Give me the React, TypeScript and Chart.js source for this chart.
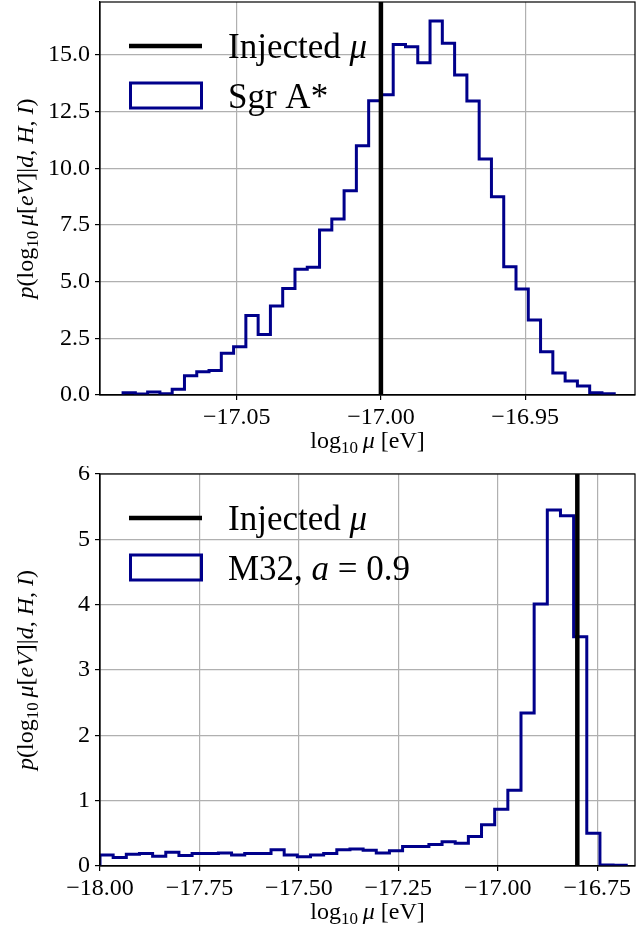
import React, { useEffect, useRef } from "react";
import { Chart, registerables } from "chart.js";

Chart.register(...registerables);

const FONT = "'Liberation Serif', 'DejaVu Serif', serif";
const HIST_COLOR = "#00008b";

// ---------- Top panel: Sgr A* ----------
const sgrBinRange = [-17.0894, -16.9191];
const sgrDensity = [
  0.1, 0.04, 0.13, 0.06, 0.25, 0.85, 1.02, 1.08, 1.84, 2.13,
  3.51, 2.67, 3.92, 4.7, 5.54, 5.63, 7.28, 7.76, 9.01, 10.99,
  12.98, 13.24, 15.46, 15.36, 14.65, 16.49, 15.51, 14.11, 12.96, 10.41,
  8.74, 5.66, 4.67, 3.31, 1.91, 0.97, 0.62, 0.4, 0.1, 0.05,
];
const sgrInjected = -17.0;
const sgrXLimits = [-17.0974, -16.9119];
const sgrYLimits = [0, 17.33];
const sgrXTicks = [-17.05, -17.0, -16.95];
const sgrXTickLabels = ["\u221217.05", "\u221217.00", "\u221216.95"];
const sgrYTicks = [0, 2.5, 5, 7.5, 10, 12.5, 15];
const sgrYTickLabels = ["0.0", "2.5", "5.0", "7.5", "10.0", "12.5", "15.0"];

// ---------- Bottom panel: M32, a = 0.9 ----------
const m32BinRange = [-18.0, -16.677];
const m32Density = [
  0.17, 0.13, 0.18, 0.19, 0.15, 0.21, 0.16, 0.19, 0.19, 0.2,
  0.17, 0.19, 0.19, 0.25, 0.17, 0.14, 0.17, 0.19, 0.25, 0.26,
  0.24, 0.2, 0.235, 0.3, 0.3, 0.33, 0.37, 0.35, 0.45, 0.63,
  0.87, 1.16, 2.34, 4.01, 5.45, 5.36, 3.51, 0.5, 0.015, 0.01,
];
const m32Injected = -16.8;
const m32XLimits = [-18.0, -16.655];
const m32YLimits = [0, 6];
const m32XTicks = [-18, -17.75, -17.5, -17.25, -17, -16.75];
const m32XTickLabels = ["\u221218.00", "\u221217.75", "\u221217.50", "\u221217.25", "\u221217.00", "\u221216.75"];
const m32YTicks = [0, 1, 2, 3, 4, 5, 6];
const m32YTickLabels = ["0", "1", "2", "3", "4", "5", "6"];

type Seg = { t: string; s?: "n" | "i" | "sub" };

function drawRich(ctx: CanvasRenderingContext2D, segs: Seg[], x: number, y: number, size: number, align: "center" | "left") {
  const fontFor = (s?: string) =>
    s === "i" ? `italic ${size}px ${FONT}` : s === "sub" ? `${Math.round(size * 0.7)}px ${FONT}` : `${size}px ${FONT}`;
  let total = 0;
  const widths = segs.map((seg) => {
    ctx.font = fontFor(seg.s);
    const w = ctx.measureText(seg.t).width;
    total += w;
    return w;
  });
  let cx = align === "center" ? x - total / 2 : x;
  ctx.textAlign = "left";
  ctx.textBaseline = "alphabetic";
  ctx.fillStyle = "#000";
  segs.forEach((seg, i) => {
    ctx.font = fontFor(seg.s);
    ctx.fillText(seg.t, cx, seg.s === "sub" ? y + size * 0.22 : y);
    cx += widths[i];
  });
}

const xTitleSegs: Seg[] = [{ t: "log" }, { t: "10", s: "sub" }, { t: "\u2009" }, { t: "\u03bc", s: "i" }, { t: " [eV]" }];
const yTitleSegs: Seg[] = [
  { t: "p", s: "i" }, { t: "(log" }, { t: "10", s: "sub" }, { t: "\u2009" }, { t: "\u03bc", s: "i" },
  { t: "[" }, { t: "eV", s: "i" }, { t: "]|" }, { t: "d", s: "i" }, { t: ", " }, { t: "H", s: "i" },
  { t: ", " }, { t: "I", s: "i" }, { t: ")" },
];

interface PanelSpec {
  binRange: number[];
  density: number[];
  injected: number;
  xLimits: number[];
  yLimits: number[];
  xTicks: number[];
  xTickLabels: string[];
  yTicks: number[];
  yTickLabels: string[];
  legendLabel: Seg[];
  padTop: number;
  xAxisH: number;
}

function buildConfig(p: PanelSpec): any {
  const n = p.density.length;
  const w = (p.binRange[1] - p.binRange[0]) / n;
  const edges = Array.from({ length: n + 1 }, (_, i) => p.binRange[0] + i * w);
  const histPts: { x: number; y: number }[] = [{ x: edges[0], y: 0 }];
  p.density.forEach((v, i) => histPts.push({ x: edges[i], y: v }));
  histPts.push({ x: edges[n], y: p.density[n - 1] });
  histPts.push({ x: edges[n], y: 0 });

  const overlay = {
    id: "overlay",
    afterDraw(chart: any) {
      const ctx: CanvasRenderingContext2D = chart.ctx;
      const a = chart.chartArea;
      ctx.save();
      // frame (spines)
      ctx.strokeStyle = "#000";
      ctx.lineWidth = 1.2;
      ctx.strokeRect(a.left, a.top, a.right - a.left, a.bottom - a.top);
      // legend
      ctx.beginPath();
      ctx.strokeStyle = "#000";
      ctx.lineWidth = 4.5;
      ctx.moveTo(a.left + 29, a.top + 44);
      ctx.lineTo(a.left + 102, a.top + 44);
      ctx.stroke();
      ctx.strokeStyle = HIST_COLOR;
      ctx.lineWidth = 3;
      ctx.strokeRect(a.left + 30.5, a.top + 81, 71, 25);
      drawRich(ctx, [{ t: "Injected " }, { t: "\u03bc", s: "i" }], a.left + 128, a.top + 56, 35, "left");
      drawRich(ctx, p.legendLabel, a.left + 128, a.top + 106, 35, "left");
      // axis titles
      drawRich(ctx, xTitleSegs, (a.left + a.right) / 2, a.bottom + 53, 24, "center");
      ctx.translate(33, (a.top + a.bottom) / 2);
      ctx.rotate(-Math.PI / 2);
      drawRich(ctx, yTitleSegs, 0, 0, 24, "center");
      ctx.restore();
    },
  };

  const tickFont = { family: FONT, size: 24 };

  return {
    type: "line",
    data: {
      datasets: [
        {
          label: "Injected",
          data: [
            { x: p.injected, y: p.yLimits[0] },
            { x: p.injected, y: p.yLimits[1] },
          ],
          borderColor: "#000",
          borderWidth: 4.5,
          pointRadius: 0,
          borderCapStyle: "butt",
        },
        {
          label: "hist",
          data: histPts,
          borderColor: HIST_COLOR,
          borderWidth: 3,
          pointRadius: 0,
          stepped: "before",
          borderJoinStyle: "miter",
          fill: false,
        },
      ],
    },
    options: {
      responsive: false,
      animation: false,
      devicePixelRatio: 1,
      layout: { padding: { top: p.padTop, right: 1, left: 0, bottom: 0 } },
      plugins: { legend: { display: false }, tooltip: { enabled: false } },
      scales: {
        x: {
          type: "linear",
          min: p.xLimits[0],
          max: p.xLimits[1],
          afterBuildTicks: (s: any) => {
            s.ticks = p.xTicks.map((v) => ({ value: v }));
          },
          afterFit: (s: any) => {
            s.height = p.xAxisH;
            s.paddingLeft = 0;
            s.paddingRight = 0;
          },
          ticks: {
            callback: (v: number) => p.xTickLabels[p.xTicks.findIndex((t) => Math.abs(t - v) < 1e-9)],
            font: tickFont,
            color: "#000",
            padding: 3,
            maxRotation: 0,
            autoSkip: false,
          },
          grid: { color: "#b0b0b0", lineWidth: 1.2, tickColor: "#000", tickLength: 5, tickWidth: 1.2 },
          border: { color: "#000", width: 1.2 },
        },
        y: {
          type: "linear",
          min: p.yLimits[0],
          max: p.yLimits[1],
          afterBuildTicks: (s: any) => {
            s.ticks = p.yTicks.map((v) => ({ value: v }));
          },
          afterFit: (s: any) => {
            s.width = 100;
            s.paddingTop = 0;
            s.paddingBottom = 0;
          },
          ticks: {
            callback: (v: number) => p.yTickLabels[p.yTicks.findIndex((t) => Math.abs(t - v) < 1e-9)],
            font: tickFont,
            color: "#000",
            padding: 5,
            autoSkip: false,
          },
          grid: { color: "#b0b0b0", lineWidth: 1.2, tickColor: "#000", tickLength: 5, tickWidth: 1.2 },
          border: { color: "#000", width: 1.2 },
        },
      },
    },
    plugins: [overlay],
  };
}

function Panel({ spec, height }: { spec: PanelSpec; height: number }) {
  const ref = useRef<HTMLCanvasElement>(null);
  useEffect(() => {
    const chart = new Chart(ref.current as HTMLCanvasElement, buildConfig(spec));
    return () => chart.destroy();
  }, []);
  return <canvas ref={ref} width={636} height={height} style={{ display: "block", width: 636, height }} />;
}

const topSpec: PanelSpec = {
  binRange: sgrBinRange,
  density: sgrDensity,
  injected: sgrInjected,
  xLimits: sgrXLimits,
  yLimits: sgrYLimits,
  xTicks: sgrXTicks,
  xTickLabels: sgrXTickLabels,
  yTicks: sgrYTicks,
  yTickLabels: sgrYTickLabels,
  legendLabel: [{ t: "Sgr A*" }],
  padTop: 2,
  xAxisH: 71,
};

const bottomSpec: PanelSpec = {
  binRange: m32BinRange,
  density: m32Density,
  injected: m32Injected,
  xLimits: m32XLimits,
  yLimits: m32YLimits,
  xTicks: m32XTicks,
  xTickLabels: m32XTickLabels,
  yTicks: m32YTicks,
  yTickLabels: m32YTickLabels,
  legendLabel: [{ t: "M32, " }, { t: "a", s: "i" }, { t: " = 0.9" }],
  padTop: 8,
  xAxisH: 67,
};

export default function App() {
  return (
    <div style={{ position: "absolute", left: 0, top: 0, width: 636, height: 933, background: "#fff" }}>
      <Panel spec={topSpec} height={466} />
      <Panel spec={bottomSpec} height={467} />
    </div>
  );
}
